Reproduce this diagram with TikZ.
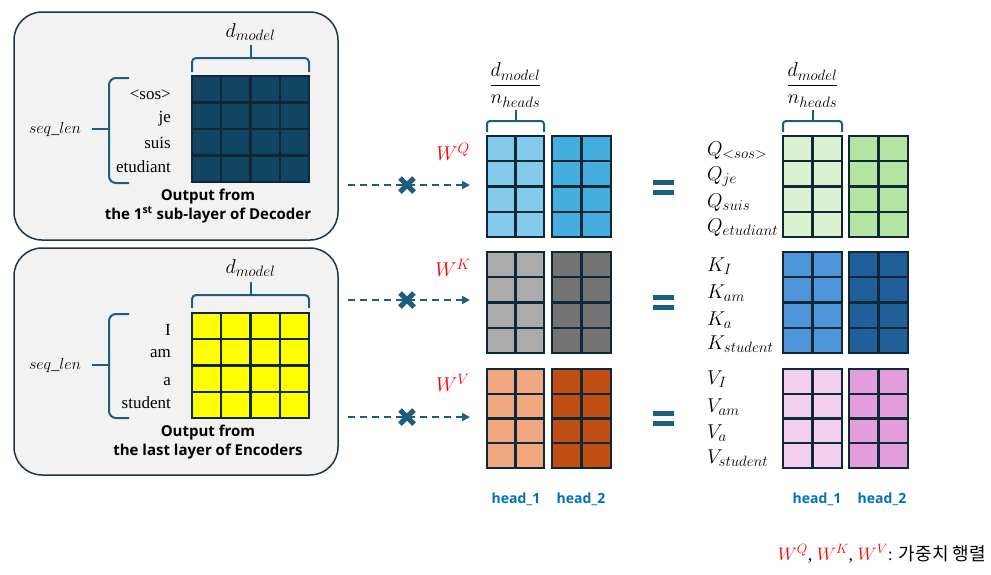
\RequirePackage{fix-cm}
\documentclass[tikz,border=0pt]{standalone}
\usepackage{amsmath}
\usepackage{fontspec}
\setmainfont{Liberation Serif}
\newfontfamily\bsans{Open Sans}
\newfontfamily\krfont{Noto Sans CJK KR}
\DeclareMathSizes{20}{20}{15}{11}
\DeclareMathSizes{18}{18}{13.5}{10}
\usetikzlibrary{arrows.meta}
\definecolor{boxc}{HTML}{1E3646}
\definecolor{boxf}{HTML}{F2F2F2}
\definecolor{brcol}{HTML}{1D5D7E}
\definecolor{gridc}{HTML}{0E2838}
\definecolor{decc}{HTML}{124561}
\definecolor{yelc}{HTML}{FFFF00}
\definecolor{qa}{HTML}{83CAEB}
\definecolor{qb}{HTML}{45AEDF}
\definecolor{ka}{HTML}{ABABAB}
\definecolor{kb}{HTML}{747474}
\definecolor{va}{HTML}{F1A881}
\definecolor{vb}{HTML}{C04F15}
\definecolor{rqa}{HTML}{DAF2D0}
\definecolor{rqb}{HTML}{B4E5A2}
\definecolor{rka}{HTML}{4E95D9}
\definecolor{rkb}{HTML}{215F9A}
\definecolor{rva}{HTML}{F2CFEE}
\definecolor{rvb}{HTML}{E59EDD}
\definecolor{headc}{HTML}{0070C0}
\tikzset{
 box/.style={draw=boxc, fill=boxf, line width=1.5pt, rounded corners=28pt},
 brc/.style={draw=brcol, line width=2pt, rounded corners=4pt},
 bracetick/.style={draw=brcol, line width=2pt},
 flow/.style={draw=brcol, line width=1.6pt, dash pattern=on 7pt off 5pt, -{Triangle[length=8pt,width=8pt]}},
 crossline/.style={draw=brcol, line width=5pt},
 eqbar/.style={draw=brcol, line width=5pt},
 gl/.style={draw=gridc, line width=2.4pt},
 rowlab/.style={anchor=base east, font=\fontsize{17}{20}\selectfont, inner sep=0pt},
 captext/.style={font=\bsans\bfseries\fontsize{15}{19}\selectfont, align=center, inner sep=0pt},
 headlab/.style={font=\bsans\bfseries\fontsize{14}{16}\selectfont, text=headc},
 wlab/.style={text=red, font=\fontsize{20}{24}\selectfont},
 mlab/.style={anchor=base west, font=\fontsize{20}{24}\selectfont, inner sep=0pt},
 dlab/.style={font=\fontsize{20}{24}\selectfont},
 slab/.style={font=\fontsize{16}{18}\selectfont}
}
\newcommand\gridmat[7]{%
 \fill[#7] (#2,#3) rectangle (#4,#5);
 \foreach \k in {1,...,#6}{\draw[gl] ({#2+\k*(#4-#2)/(#6+1)},#3) -- ({#2+\k*(#4-#2)/(#6+1)},#5);}
 \foreach \k in {1,2,3}{\draw[gl] (#2,{#3+\k*(#5-#3)/4}) -- (#4,{#3+\k*(#5-#3)/4});}
 \draw[gl, line join=miter] (#2,#3) rectangle (#4,#5);
 \coordinate (#1) at ({(#2+#4)/2},{(#3+#5)/2});
}
\begin{document}
\begin{tikzpicture}[x=1pt,y=-1pt]
\useasboundingbox (0,0) rectangle (991,574);
% left boxes
\draw[box] (14,12) rectangle (338,240);
\draw[box] (14,248) rectangle (338,475);
% decoder matrix
\gridmat{dec}{192}{76}{309}{182}{3}{decc}
\draw[brc] (192,72) -- (192,58) -- (309,58) -- (309,72);
\draw[bracetick] (250.5,58) -- (250.5,45);
\node[dlab] (dm1) at (250.5,32) {$d_{model}$};
\draw[brc, rounded corners=7pt] (129,78) -- (109,78) -- (109,183) -- (129,183);
\draw[bracetick] (109,129) -- (92,129);
\node[slab] (sl1) at (55,129) {$seq\_len$};
\node[rowlab] (r1) at (171,99) {<sos>};
\node[rowlab] (r2) at (171,122) {je};
\node[rowlab] (r3) at (171,148) {suis};
\node[rowlab] (r4) at (171,172) {etudiant};
\node[captext] (c1) at (208,206) {Output from\\the 1\textsuperscript{st} sub-layer of Decoder};
% encoder matrix
\gridmat{enc}{192}{313}{309}{418}{3}{yelc}
\draw[brc] (192,308) -- (192,295) -- (309,295) -- (309,308);
\draw[bracetick] (250.5,295) -- (250.5,282);
\node[dlab] (dm2) at (250.5,268) {$d_{model}$};
\draw[brc, rounded corners=7pt] (129,314) -- (109,314) -- (109,418) -- (129,418);
\draw[bracetick] (109,365) -- (92,365);
\node[slab] (sl2) at (55,365) {$seq\_len$};
\node[rowlab] (e1) at (171,335) {I};
\node[rowlab] (e2) at (171,357) {am};
\node[rowlab] (e3) at (171,385) {a};
\node[rowlab] (e4) at (171,408) {student};
\node[captext] (c2) at (208,442) {Output from\\the last layer of Encoders};
% middle weight matrices
\gridmat{wq1}{487}{136}{544}{237}{1}{qa}
\gridmat{wq2}{552}{136}{611}{237}{1}{qb}
\gridmat{wk1}{487}{252}{544}{353}{1}{ka}
\gridmat{wk2}{552}{252}{611}{353}{1}{kb}
\gridmat{wv1}{487}{369}{544}{468}{1}{va}
\gridmat{wv2}{552}{369}{611}{468}{1}{vb}
\draw[brc, rounded corners=3pt] (487,132) -- (487,121) -- (544,121) -- (544,132);
\draw[bracetick] (515.5,121) -- (515.5,110);
\node[dlab] (fr1) at (515.5,85) {$\dfrac{d_{model}}{n_{heads}}$};
\node[wlab] (wq) at (453,152) {$W^Q$};
\node[wlab] (wk) at (453,268) {$W^K$};
\node[wlab] (wv) at (453,383) {$W^V$};
% arrows
\coordinate (aq0) at (348,185); \coordinate (aq1) at (470,185);
\coordinate (ak0) at (348,300); \coordinate (ak1) at (470,300);
\coordinate (av0) at (348,417); \coordinate (av1) at (470,417);
\draw[flow] (aq0) -- (aq1);
\draw[flow] (ak0) -- (ak1);
\draw[flow] (av0) -- (av1);
\foreach \yy in {185,300,417}{
 \draw[crossline] (400,{\yy-7}) -- (414,{\yy+7});
 \draw[crossline] (400,{\yy+7}) -- (414,{\yy-7});
}
% equal signs
\foreach \yy in {187,302,418}{
 \draw[eqbar] (653,{\yy-5}) -- (674,{\yy-5});
 \draw[eqbar] (653,{\yy+5}) -- (674,{\yy+5});
}
% right result matrices
\gridmat{q1}{783}{136}{842}{237}{1}{rqa}
\gridmat{q2}{849}{136}{908}{237}{1}{rqb}
\gridmat{k1}{783}{252}{842}{353}{1}{rka}
\gridmat{k2}{849}{252}{908}{353}{1}{rkb}
\gridmat{v1}{783}{369}{842}{468}{1}{rva}
\gridmat{v2}{849}{369}{908}{468}{1}{rvb}
\draw[brc, rounded corners=3pt] (783,132) -- (783,121) -- (842,121) -- (842,132);
\draw[bracetick] (812.5,121) -- (812.5,110);
\node[dlab] (fr2) at (812.5,85) {$\dfrac{d_{model}}{n_{heads}}$};
\node[mlab] (lq1) at (707,155) {$Q_{<sos>}$};
\node[mlab] (lq2) at (707,180) {$Q_{je}$};
\node[mlab] (lq3) at (707,207) {$Q_{suis}$};
\node[mlab] (lq4) at (707,232) {$Q_{etudiant}$};
\node[mlab] (lk1) at (707,271) {$K_{I}$};
\node[mlab] (lk2) at (707,298) {$K_{am}$};
\node[mlab] (lk3) at (707,325) {$K_{a}$};
\node[mlab] (lk4) at (707,349) {$K_{student}$};
\node[mlab] (lv1) at (707,384) {$V_{I}$};
\node[mlab] (lv2) at (707,412) {$V_{am}$};
\node[mlab] (lv3) at (707,438) {$V_{a}$};
\node[mlab] (lv4) at (707,463) {$V_{student}$};
% head labels
\node[headlab] (h1) at (516,499) {head\_1};
\node[headlab] (h2) at (581,499) {head\_2};
\node[headlab] (h3) at (817,499) {head\_1};
\node[headlab] (h4) at (882,499) {head\_2};
% legend
\node[anchor=base east, inner sep=0pt, font=\fontsize{18}{22}\selectfont] (leg) at (986,560)
 {\textcolor{red}{$W^Q$}, \textcolor{red}{$W^K$}, \textcolor{red}{$W^V$}: {\krfont 가중치 행렬}};
\end{tikzpicture}
\end{document}
